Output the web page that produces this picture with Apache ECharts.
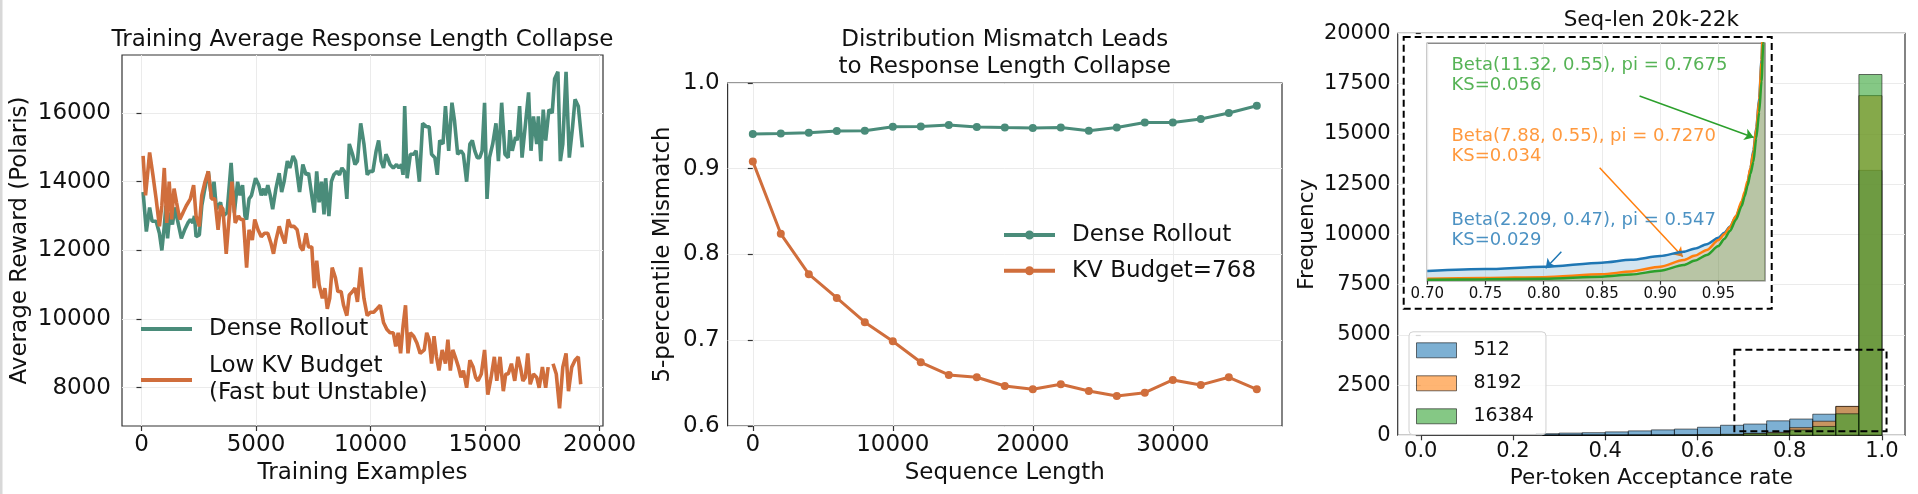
<!DOCTYPE html>
<html><head><meta charset="utf-8">
<script src="https://cdn.jsdelivr.net/npm/echarts@6/dist/echarts.min.js"></script>
<style>html,body{margin:0;padding:0;background:#fff}#c{width:1918px;height:494px}</style>
</head><body><div id="c"></div>
<script>
// ---------- Panel 1: Training Average Response Length Collapse ----------
const trainDenseX = [71,213,356,463,640,783,890,996,1067,1139,1245,1352,1459,1566,1743,1886,2028,2135,2242,2313,2384,2526,2633,2740,2918,3060,3167,3273,3451,3558,3736,3914,4056,4198,4305,4412,4519,4590,4697,4803,4981,5124,5230,5337,5408,5515,5622,5728,5871,6013,6120,6227,6369,6476,6618,6725,6903,7045,7187,7294,7543,7650,7756,7863,7970,8041,8183,8290,8397,8539,8646,8753,8859,8966,9073,9215,9322,9429,9571,9713,9856,9962,10105,10247,10354,10461,10567,10674,10745,10852,10994,11137,11243,11350,11421,11492,11599,11741,11884,11990,12133,12275,12453,12560,12666,12809,12915,13022,13165,13271,13414,13556,13663,13805,13947,14054,14196,14339,14445,14552,14659,14766,14872,14979,15086,15193,15335,15477,15584,15726,15869,16011,16082,16189,16331,16402,16509,16616,16723,16901,17007,17114,17256,17327,17434,17541,17648,17790,17932,18039,18181,18288,18395,18537,18680,18822,18929,19071,19249];
const trainDenseY = [13700,12550,13250,12850,12850,12500,12000,12700,13300,12350,13100,12750,13250,12900,12350,12600,12800,12900,12800,13000,12400,12450,13300,13700,14300,13500,14000,13200,13400,13000,13100,14550,13100,14000,13600,13900,13000,12900,13500,13600,14100,13900,13600,13800,13600,13900,13600,13200,13800,14250,13700,14000,14600,14400,14750,14600,13700,14500,14200,14250,13100,14300,13400,14000,13050,14100,13000,14000,14200,14300,14200,14400,14300,13500,15100,14800,14500,14600,15700,15100,14200,14300,14300,14900,15200,14600,14400,14800,14700,14500,14400,14500,14400,14500,14200,16200,14100,14800,14800,14900,14000,15700,15600,15600,14800,14700,14200,15200,15100,16200,14900,16300,15800,14800,14900,14800,14000,15100,15200,14900,14700,14700,14900,16300,13500,14700,15100,15700,14600,16300,14800,14700,15500,14900,15300,15200,16200,14700,15400,16600,14900,15900,15100,15900,14600,16100,15200,16100,16000,17000,17200,14600,15100,17200,14700,15600,16400,16200,15000];
const trainKvX = [71,178,356,498,640,783,890,996,1103,1210,1316,1423,1530,1672,1815,1957,2135,2277,2384,2526,2633,2775,2918,3060,3202,3345,3451,3558,3700,3843,3949,4092,4234,4341,4448,4590,4697,4839,4946,5088,5230,5373,5515,5657,5764,5871,6013,6155,6262,6404,6511,6653,6796,6938,7045,7187,7294,7436,7543,7650,7756,7899,8006,8112,8219,8326,8468,8575,8717,8824,8966,9073,9215,9322,9429,9571,9713,9856,9998,10140,10283,10425,10567,10710,10852,10994,11101,11208,11314,11421,11528,11635,11741,11884,12026,12168,12346,12453,12560,12666,12773,12880,12987,13129,13271,13378,13485,13592,13698,13841,13947,14054,14196,14339,14481,14588,14695,14837,14979,15122,15264,15406,15513,15655,15798,15904,16011,16153,16296,16438,16545,16652,16758,16865,16972,17114,17256,17363,17505,17648,17754,17860,17968,18110,18253,18395,18537,18644,18786,18929,19071,19178];
const trainKvY = [14750,13600,14850,14200,13500,12700,13300,14400,12800,14000,12900,13800,13400,12900,13100,13300,13500,13900,13000,12700,13600,14000,14300,13500,13500,12600,13300,13200,11900,13100,14000,12800,13000,12900,12900,11500,12600,12300,12900,12600,12400,12500,12500,12200,11900,12300,12700,12400,12200,12900,12700,12700,12600,12100,12000,12500,12100,12100,10900,11700,11000,10600,10900,10300,10600,11500,11200,10800,10800,10400,10100,10700,10800,10900,10500,11500,10600,10100,10200,10200,10300,10400,9900,9700,9600,9600,9200,9600,9000,9800,10400,9000,9600,9500,9300,9000,9100,9600,9400,8700,9500,8900,8500,9100,8700,9400,8500,9100,8900,8600,8300,8500,8000,8800,8600,8300,8200,8400,9100,7800,8300,8900,8200,8900,7900,8400,8400,8700,8200,8900,8600,8200,8300,9000,8100,8400,8300,8000,8600,8000,8600,null,8700,8400,7400,8600,9000,7900,8600,8800,8900,8100];
const trainXTicks = [0,5000,10000,15000,20000];
const trainYTicks = [8000,10000,12000,14000,16000];

// ---------- Panel 2: Distribution mismatch ----------
const seqLen = [0,2000,4000,6000,8000,10000,12000,14000,16000,18000,20000,22000,24000,26000,28000,30000,32000,34000,36000];
const mismatchDense = [0.9405,0.9412,0.942,0.944,0.9444,0.949,0.9494,0.951,0.9486,0.948,0.9475,0.948,0.9444,0.948,0.954,0.954,0.958,0.965,0.9735];
const mismatchKv = [0.9086,0.8241,0.777,0.7494,0.721,0.6988,0.6743,0.6595,0.6568,0.6467,0.6428,0.6486,0.6409,0.635,0.6389,0.6537,0.6479,0.6568,0.6428];
const seqXTicks = [0,10000,20000,30000];
const mismatchYTicks = [0.6,0.7,0.8,0.9,1.0];

// ---------- Panel 3: Histogram of acceptance rate ----------
const binEdges = [0,0.05,0.1,0.15,0.2,0.25,0.3,0.35,0.4,0.45,0.5,0.55,0.6,0.65,0.7,0.75,0.8,0.85,0.9,0.95,1.0];
const hist512 = [5,30,35,40,45,80,110,130,170,220,270,310,400,500,560,720,810,1050,1430,13180];
const hist8192 = [0,0,0,0,0,2,3,5,8,10,15,20,30,50,100,150,380,700,1440,16900];
const hist16384 = [0,0,0,0,0,1,2,3,5,7,10,15,20,35,80,115,265,440,1070,17950];
const histNames = ['512','8192','16384'];
const accXTicks = [0,0.2,0.4,0.6,0.8,1.0];
const freqYTicks = [0,2500,5000,7500,10000,12500,15000,17500,20000];
// inset fitted curves (inset units 0-100 of its height)
const insetX = [0.70,0.75,0.80,0.85,0.875,0.90,0.92,0.93,0.94,0.95,0.955,0.96,0.965,0.97,0.9725,0.975,0.9775,0.98,0.9825,0.985,0.987,0.9885,0.99];
const fit512 = [4.1,4.9,5.9,7.6,8.8,10.4,12.2,13.6,15.4,18.1,20.2,22.8,27,32.6,36.5,41,47.5,55,64.5,77,93,115,135];
const fit8192 = [0.8,1.1,1.5,2.7,3.9,5.9,8.7,10.6,12.9,17.1,19.6,22.6,27.3,33.5,37.5,42,47.5,54,64,76,92,114,135];
const fit16384 = [0.4,0.6,0.8,1.7,2.6,4.2,6.6,8.5,10.8,14.6,17.6,21.0,25.7,31.5,35.5,40,45,50,60,71,84,100,125];
const insetXTicks = [0.70,0.75,0.80,0.85,0.90,0.95];
const fitTexts = ['Beta(11.32, 0.55), pi = 0.7675\nKS=0.056','Beta(7.88, 0.55), pi = 0.7270\nKS=0.034','Beta(2.209, 0.47), pi = 0.547\nKS=0.029'];
const fitTextPos = [[0.7212,94.6],[0.7212,64.6],[0.7212,29.2]];
const fitArrows = [[[0.8823,77.8],[0.9803,60.3]],[[0.848,47.6],[0.9194,10.1]],[[0.8151,12.2],[0.8017,5.2]]];
const insetBox = [-0.037,0.761,6290,19820];
const zoomBox = [0.68,1.01,200,4260];

// ---------- styling ----------
const FONT = 'DejaVu Sans';
const TEAL = '#4a8c7a', RUST = '#d06e3c';
const TAB = {blue:'#1f77b4', orange:'#ff7f0e', green:'#2ca02c'};
const HIST_FILL = ['rgba(31,119,180,0.58)','rgba(255,127,14,0.58)','rgba(44,160,44,0.58)'];
const zip = (a,b) => a.map((v,i)=>[v,b[i]]);

function valAxis(o){
  return {
    type:'value', gridIndex:o.grid, min:o.min, max:o.max,
    name:o.name||'', nameLocation:'middle', nameGap:o.nameGap||0,
    nameTextStyle:{fontFamily:FONT,fontSize:o.nameSize||23,color:'#111'},
    axisLine:{show:false},
    axisTick:{show:true,length:o.tickLen||5,customValues:o.ticks,lineStyle:{color:'#333',width:1.2}},
    axisLabel:{show:true,customValues:o.ticks,formatter:o.fmt||(v=>String(v)),margin:o.margin,fontFamily:FONT,fontSize:o.size||23,color:'#111'},
    splitLine:{show:!!o.split,lineStyle:{color:'#ebebeb',width:1}},
    z:o.z||0
  };
}
const gridBase = {show:true,borderColor:'#333',borderWidth:1.2,backgroundColor:'rgba(0,0,0,0)',outerBoundsMode:'none',containLabel:false};

function histSeries(idx, counts){
  const data = counts.map((c,i)=>[binEdges[i],binEdges[i+1],c]);
  return {
    type:'custom', name:histNames[idx], xAxisIndex:2, yAxisIndex:2, z:2,
    itemStyle:{color:HIST_FILL[idx]},
    encode:{x:[0,1],y:2},
    data:data,
    renderItem:(params,api)=>{
      const p0 = api.coord([api.value(0),0]);
      const p1 = api.coord([api.value(1),api.value(2)]);
      return {type:'rect',shape:{x:p0[0],y:p1[1],width:p1[0]-p0[0],height:p0[1]-p1[1]},
        style:{fill:HIST_FILL[idx],stroke:'rgba(0,0,0,0.55)',lineWidth:1}};
    }
  };
}
function boxSeries(box, fill, z){
  return {
    type:'custom', xAxisIndex:2, yAxisIndex:2, z:z, silent:true,
    encode:{x:[0,1],y:[2,3]}, data:[box],
    renderItem:(params,api)=>{
      const a = api.coord([api.value(0),api.value(3)]);
      const b = api.coord([api.value(1),api.value(2)]);
      return {type:'rect',shape:{x:a[0],y:a[1],width:b[0]-a[0],height:b[1]-a[1]},
        style:{fill:fill,stroke:'#000',lineWidth:2,lineDash:[7,4]}};
    }
  };
}
const fitColors = [TAB.green, TAB.orange, TAB.blue];
function fitLine(name, ys, color){
  return {type:'line', name:name, xAxisIndex:3, yAxisIndex:3, z:5, data:zip(insetX,ys),
    symbol:'none', smooth:0.25, smoothMonotone:'x', clip:true,
    lineStyle:{color:color,width:2.5}, itemStyle:{color:color},
    areaStyle:{color:color,opacity:0.2}};
}
function annot(i){
  return {type:'scatter', xAxisIndex:3, yAxisIndex:3, z:6, silent:true,
    data:[fitTextPos[i]], symbolSize:1, itemStyle:{color:'rgba(0,0,0,0)'},
    label:{show:true, position:[0,0], align:'left', verticalAlign:'top',
      formatter:()=>fitTexts[i], fontFamily:FONT, fontSize:18, lineHeight:19.5, color:fitColors[i]},
    markLine:{silent:true, symbol:['none','arrow'], symbolSize:9, label:{show:false},
      lineStyle:{color:fitColors[i],width:1.5,type:'solid'},
      data:[[{coord:fitArrows[i][0]},{coord:fitArrows[i][1]}]]}
  };
}

const option = {
  animation:false,
  textStyle:{fontFamily:FONT},
  grid:[
    Object.assign({left:122,top:55,width:481,height:371},gridBase),
    Object.assign({left:727.6,top:83,width:554.4,height:343},gridBase),
    Object.assign({left:1397.7,top:33.3,width:507.3,height:402},gridBase),
    Object.assign({},gridBase,{left:1427.3,top:43.3,width:337.7,height:237.4,borderColor:'#8a8a8a',borderWidth:1.5,backgroundColor:'#fff',z:3})
  ],
  xAxis:[
    valAxis({grid:0,min:-850,max:20150,ticks:trainXTicks,name:'Training Examples',nameGap:35,margin:8,split:true}),
    valAxis({grid:1,min:-1800,max:37800,ticks:seqXTicks,name:'Sequence Length',nameGap:35,margin:8,split:true}),
    valAxis({grid:2,min:-0.05,max:1.05,ticks:accXTicks,fmt:v=>v.toFixed(1),name:'Per-token Acceptance rate',nameGap:31,nameSize:21.5,size:21,margin:6,split:false}),
    valAxis({grid:3,min:0.70,max:0.99,ticks:insetXTicks,fmt:v=>v.toFixed(2),size:15,margin:6,tickLen:4,split:true,z:4})
  ],
  yAxis:[
    valAxis({grid:0,min:6885,max:17690,ticks:trainYTicks,name:'Average Reward (Polaris)',nameGap:90,margin:11,split:true}),
    valAxis({grid:1,min:0.6,max:1.0,ticks:mismatchYTicks,fmt:v=>v.toFixed(1),name:'5-percentile Mismatch',nameGap:53,margin:8,split:true}),
    valAxis({grid:2,min:0,max:20000,ticks:freqYTicks,name:'Frequency',nameGap:79,nameSize:21.5,size:21,margin:7,split:true}),
    {type:'value',gridIndex:3,min:0,max:100,show:false,splitLine:{show:false}}
  ],
  legend:[
    {data:[{name:'Dense Rollout',icon:'rect'}],left:141,top:315.5,padding:0,orient:'vertical',itemWidth:51,itemHeight:4,selectedMode:false,
      textStyle:{fontFamily:FONT,fontSize:23,color:'#111',lineHeight:27,padding:[0,0,0,12]}},
    {data:[{name:'Low KV Budget\n(Fast but Unstable)',icon:'rect'}],left:141,top:353,padding:0,orient:'vertical',itemWidth:51,itemHeight:4,selectedMode:false,
      textStyle:{fontFamily:FONT,fontSize:23,color:'#111',lineHeight:27,padding:[0,0,0,12]}},
    {data:[{name:'Dense Rollout',icon:'path://M0,4.5L51,4.5L51,8.5L0,8.5Z M21,6.5a4.5,4.5 0 1,1 9,0a4.5,4.5 0 1,1 -9,0Z'},
           {name:'KV Budget=768',icon:'path://M0,4.5L51,4.5L51,8.5L0,8.5Z M21,6.5a4.5,4.5 0 1,1 9,0a4.5,4.5 0 1,1 -9,0Z'}],
      left:1004,top:221.5,padding:0,orient:'vertical',itemWidth:51,itemHeight:9,itemGap:8.7,selectedMode:false,
      textStyle:{fontFamily:FONT,fontSize:23,color:'#111',lineHeight:27,padding:[0,0,0,12]}},
    {data:histNames.map(n=>({name:n,icon:'rect'})),left:1409,top:331.8,orient:'vertical',itemWidth:40,itemHeight:15,itemGap:14,selectedMode:false,
      padding:[9,12,9,7],backgroundColor:'rgba(255,255,255,0.8)',borderColor:'#d0d0d0',borderWidth:1,borderRadius:4,
      itemStyle:{borderColor:'rgba(0,0,0,0.55)',borderWidth:1},
      textStyle:{fontFamily:FONT,fontSize:19,color:'#111',lineHeight:15,padding:[0,0,0,12]}}
  ],
  graphic:[
    {type:'rect',x:0,y:0,shape:{width:2.5,height:494},style:{fill:'#d8d8d8'}},
    {type:'text',x:362.5,y:40,style:{text:'Training Average Response Length Collapse',font:'23px "DejaVu Sans"',fill:'#111',align:'center',verticalAlign:'middle'}},
    {type:'text',x:1004.7,y:53.3,style:{text:'Distribution Mismatch Leads\nto Response Length Collapse',font:'23px "DejaVu Sans"',lineHeight:26.7,fill:'#111',align:'center',verticalAlign:'middle'}},
    {type:'text',x:1651.3,y:20,style:{text:'Seq-len 20k-22k',font:'21.5px "DejaVu Sans"',fill:'#111',align:'center',verticalAlign:'middle'}}
  ],
  series:[
    {type:'line',name:'Dense Rollout',xAxisIndex:0,yAxisIndex:0,data:zip(trainDenseX,trainDenseY),symbol:'none',
      lineStyle:{color:TEAL,width:3.6},itemStyle:{color:TEAL},z:2},
    {type:'line',name:'Low KV Budget\n(Fast but Unstable)',xAxisIndex:0,yAxisIndex:0,data:zip(trainKvX,trainKvY),symbol:'none',connectNulls:false,
      lineStyle:{color:RUST,width:3.6},itemStyle:{color:RUST},z:2},
    {type:'line',name:'Dense Rollout',xAxisIndex:1,yAxisIndex:1,data:zip(seqLen,mismatchDense),symbol:'circle',symbolSize:8,
      lineStyle:{color:TEAL,width:3},itemStyle:{color:TEAL},z:2},
    {type:'line',name:'KV Budget=768',xAxisIndex:1,yAxisIndex:1,data:zip(seqLen,mismatchKv),symbol:'circle',symbolSize:8,
      lineStyle:{color:RUST,width:3},itemStyle:{color:RUST},z:2},
    boxSeries(insetBox,'#fff',1),
    histSeries(0,hist512),
    histSeries(1,hist8192),
    histSeries(2,hist16384),
    boxSeries(zoomBox,'rgba(0,0,0,0)',3),
    fitLine('fit512',fit512,TAB.blue),
    fitLine('fit8192',fit8192,TAB.orange),
    fitLine('fit16384',fit16384,TAB.green),
    annot(0), annot(1), annot(2)
  ]
};
const chart = echarts.init(document.getElementById('c'),null,{renderer:'canvas'});
chart.setOption(option);
</script></body></html>
